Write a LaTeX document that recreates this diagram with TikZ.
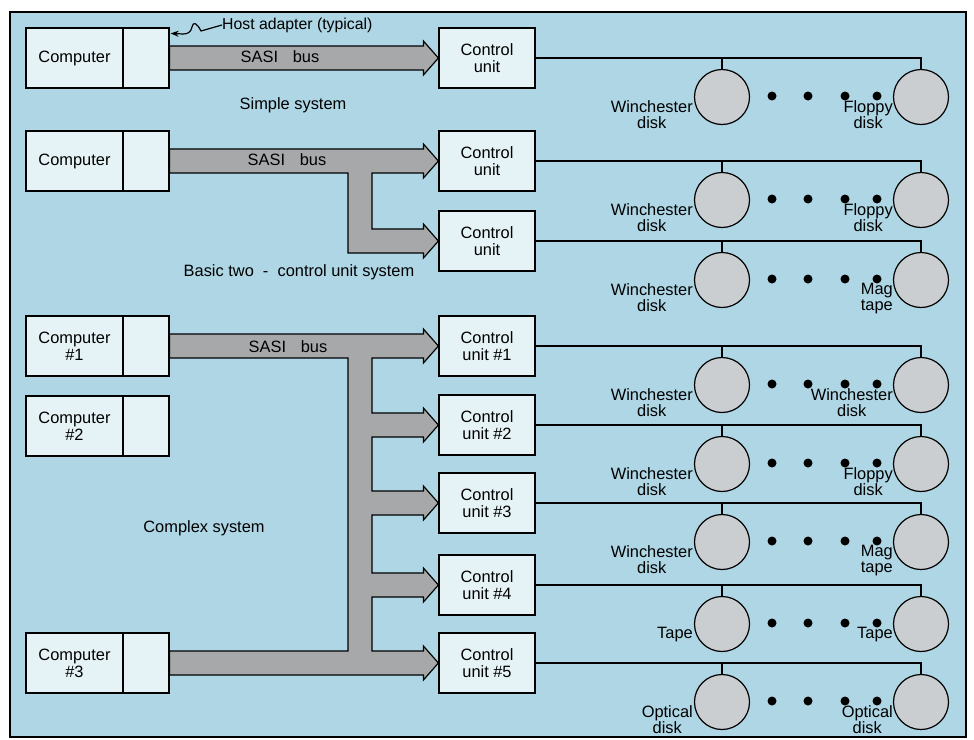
\documentclass[tikz,border=0pt]{standalone}
\usepackage{fontspec}
\setmainfont{Liberation Sans}
\usetikzlibrary{arrows.meta,calc}
\definecolor{panel}{RGB}{174,214,229}
\definecolor{boxfill}{RGB}{230,243,246}
\definecolor{busgray}{RGB}{166,168,170}
\definecolor{diskgray}{RGB}{202,206,209}

\begin{document}
\begin{tikzpicture}[x=1pt,y=-1pt,
  box/.style={rectangle,draw,fill=boxfill,line width=1.2pt,minimum height=60pt,inner sep=0pt,align=center,font=\fontsize{16.4}{17}\selectfont},
  pcbox/.style={box,minimum width=97pt},
  adbox/.style={box,minimum width=46pt},
  cubox/.style={box,minimum width=96pt},
  disk/.style={circle,draw,fill=diskgray,line width=1.2pt,minimum size=55pt,inner sep=0pt},
  dlabel/.style={anchor=north east,inner sep=0pt,align=center,font=\fontsize{16.4}{16}\selectfont},
  caption/.style={inner sep=0pt,font=\fontsize{16.4}{17}\selectfont},
  bus/.style={draw,fill=busgray,line width=1.2pt},
  tohead/.style={insert path={-- ($(#1.west)+(-15,-12)$) -- ++(0,-5) -- (#1.west) -- ++(-15,17) -- ++(0,-5)}}]
\useasboundingbox (0,0) rectangle (974,739);
\draw[fill=panel,line width=1.2pt] (10,12) rectangle (966,737);

% simple system
\node[pcbox] (pc1) at (74.5,58) {Computer};
\node[adbox] (ad1) at (146,58) {};
\node[cubox] (cu1) at (487,58) {Control\\unit};
\draw[bus] ($(ad1.east)+(0,-12)$) [tohead=cu1] -- ($(ad1.east)+(0,12)$) -- cycle;
\node[caption] at (280,57) {SASI\hspace{0.9em}bus};
\node[caption] at (293,105) {Simple system};
\node[caption,anchor=west,font=\fontsize{15.8}{17}\selectfont] (host) at (222,25) {Host adapter (typical)};
\draw[line width=1.2pt,-{Stealth[length=8pt,width=6pt]}] (host.west) -- (201,31) .. controls (197,23) and (193,21) .. (192,27) .. controls (191,32) and (188,34) .. (183,34) -- ([xshift=1pt,yshift=-6pt]ad1.north east);

% basic two - control unit system
\node[pcbox] (pc2) at (74.5,161) {Computer};
\node[adbox] (ad2) at (146,161) {};
\node[cubox] (cu2) at (487,161) {Control\\unit};
\node[cubox] (cu3) at (487,241) {Control\\unit};
\draw[bus] ($(ad2.east)+(0,-12)$) [tohead=cu2] -- (372,173) -- (372,229) [tohead=cu3] -- (348,253) -- (348,173) -- ($(ad2.east)+(0,12)$) -- cycle;
\node[caption] at (287,160) {SASI\hspace{0.9em}bus};
\node[caption] at (299,272) {Basic two\ \ -\ \ control unit system};

% complex system
\node[pcbox] (pc3) at (74.5,346) {Computer\\\#1};
\node[adbox] (ad3) at (146,346) {};
\node[pcbox] (pc4) at (74.5,426) {Computer\\\#2};
\node[adbox] (ad4) at (146,426) {};
\node[pcbox] (pc5) at (74.5,663) {Computer\\\#3};
\node[adbox] (ad5) at (146,663) {};
\node[cubox] (cu4) at (487,346) {Control\\unit \#1};
\node[cubox] (cu5) at (487,425) {Control\\unit \#2};
\node[cubox] (cu6) at (487,503) {Control\\unit \#3};
\node[cubox] (cu7) at (487,585) {Control\\unit \#4};
\node[cubox] (cu8) at (487,663) {Control\\unit \#5};
\draw[bus] ($(ad3.east)+(0,-12)$) [tohead=cu4] -- (372,358) -- (372,413) [tohead=cu5] -- (372,437) -- (372,491) [tohead=cu6] -- (372,515) -- (372,573) [tohead=cu7] -- (372,597) -- (372,651) [tohead=cu8] -- ($(ad5.east)+(0,12)$) -- ($(ad5.east)+(0,-12)$) -- (348,651) -- (348,358) -- ($(ad3.east)+(0,12)$) -- cycle;
\node[caption] at (288,347) {SASI\hspace{0.9em}bus};
\node[caption] at (204,528) {Complex system};

% disk strings
\foreach \r/\y/\lt/\rt in {1/58/{Winchester\\disk}/{Floppy\\disk},
    2/161/{Winchester\\disk}/{Floppy\\disk},
    3/241/{Winchester\\disk}/{Mag\\tape},
    4/346/{Winchester\\disk}/{Winchester\\disk},
    5/425/{Winchester\\disk}/{Floppy\\disk},
    6/503/{Winchester\\disk}/{Mag\\tape},
    7/585/{Tape}/{Tape},
    8/663/{Optical\\disk}/{Optical\\disk}}{
  \node[disk] (L\r) at (722,\y+39) {};
  \node[disk] (R\r) at (921,\y+39) {};
  \draw[line width=1.2pt] (cu\r.east) -| (R\r.north);
  \draw[line width=1.2pt] (L\r.north) -- (L\r.north |- cu\r.east);
  \foreach \x in {772,808,845,877} \fill (\x,\y+38) circle (4.5pt);
  \node[dlabel] at ($(L\r.center)+(-29,3)$) {\lt};
  \node[dlabel] at ($(R\r.center)+(-28,3)$) {\rt};
}
\end{tikzpicture}
\end{document}
